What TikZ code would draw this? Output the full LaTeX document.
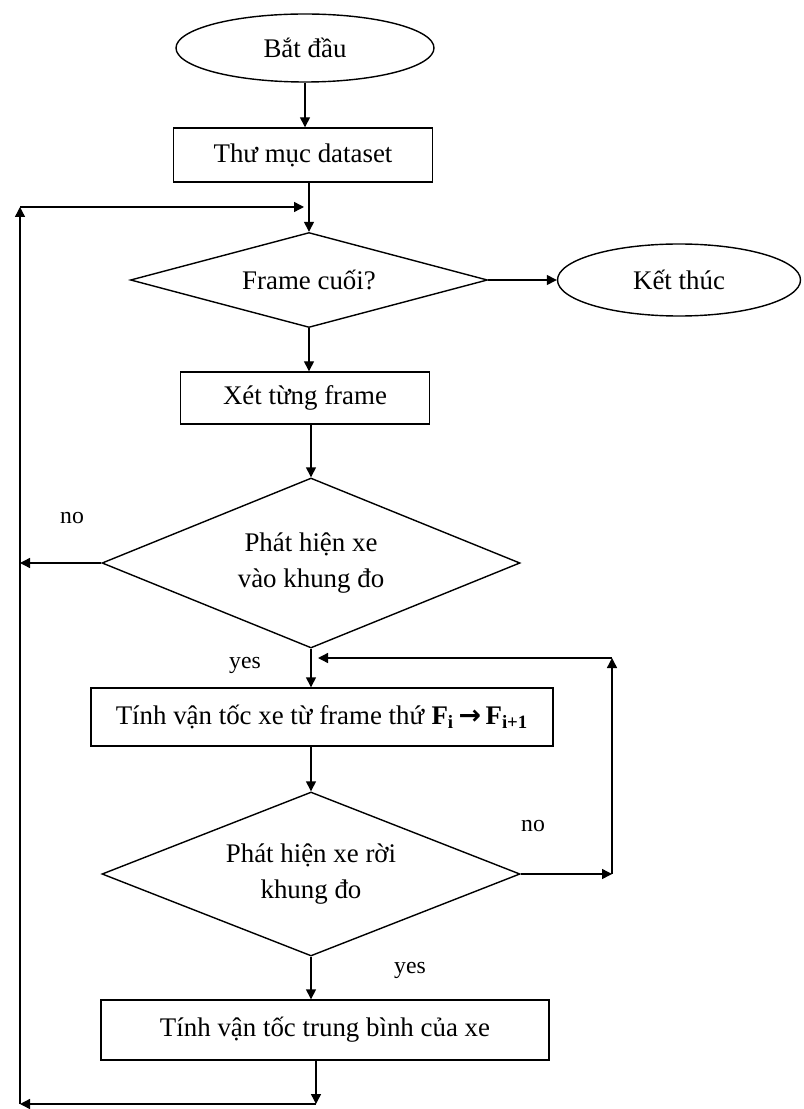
\documentclass[tikz,border=0pt]{standalone}
\usepackage{fontspec}
\setmainfont{Liberation Serif}
\newfontfamily\arrowfont{DejaVu Sans}
\usetikzlibrary{
  arrows.meta,
  shapes.geometric
}

\begin{document}
\begin{tikzpicture}[
  x=0.2mm, y=-0.2mm,
  every node/.style={font=\fontsize{15.3}{20}\selectfont},
  termnode/.style={
    draw, ellipse, line width=0.8pt, inner sep=0pt
  },
  procbox/.style={
    draw, rectangle, line width=0.8pt, inner sep=0pt
  },
  decision/.style={
    draw, diamond, line width=0.8pt, inner sep=0pt, align=center
  },
  arrow/.style={
    -{Triangle[length=2mm, width=2mm]},
    line width=0.8pt
  },
  lbl/.style={font=\fontsize{13.5}{15}\selectfont}
]
\useasboundingbox (0,0) rectangle (803,1109);

\node[termnode, minimum width=5.16cm, minimum height=1.36cm] (start) at (305,48) {Bắt đầu};
\node[procbox, minimum width=5.18cm, minimum height=1.08cm] (dataset) at (303,155) {Thư mục dataset};
\node[decision, aspect=3.76, minimum width=7.14cm, minimum height=1.9cm] (last) at (309,280) {Frame cuối?};
\node[termnode, minimum width=4.86cm, minimum height=1.44cm] (stop) at (679,280) {Kết thúc};
\node[procbox, minimum width=4.98cm, minimum height=1.04cm] (each) at (305,398) {Xét từng frame};
\node[decision, aspect=2.46, minimum width=8.36cm, minimum height=3.4cm] (enter) at (311,563) {Phát hiện xe\\vào khung đo};
\node[procbox, minimum width=9.24cm, minimum height=1.16cm] (speed) at (322,717)
  {Tính vận tốc xe từ frame thứ \textbf{F\textsubscript{i}\,{\arrowfont →}\,F\textsubscript{i+1}}};
\node[decision, aspect=2.55, minimum width=8.36cm, minimum height=3.28cm] (leave) at (311,874) {Phát hiện xe rời\\khung đo};
\node[procbox, minimum width=8.96cm, minimum height=1.2cm] (avg) at (325,1030) {Tính vận tốc trung bình của xe};

% branch labels
\node[lbl] (no1) at (72,518) {no};
\node[lbl] (yes1) at (245,665) {yes};
\node[lbl] (no2) at (533,826) {no};
\node[lbl] (yes2) at (410,970) {yes};

% loop corners
\coordinate (lb) at (20,1104);
\coordinate (lt) at (20,207);
\coordinate (join1) at (304,207);
\coordinate (bt) at (316,1104);
\coordinate (rb) at (612,874);
\coordinate (rt) at (612,658);
\coordinate (join2) at (318,658);

% main flow
\draw[arrow] (start) -- (start |- dataset.north);
\draw[arrow] (dataset.south -| last.north) -- (last.north);
\draw[arrow] (last) -- (stop);
\draw[arrow] (last.south) -- (last.south |- each.north);
\draw[arrow] (enter.north |- each.south) -- (enter.north);
\draw[arrow] (enter.south) -- (enter.south |- speed.north);
\draw[arrow] (leave.north |- speed.south) -- (leave.north);
\draw[arrow] (leave.south) -- (leave.south |- avg.north);

% outer loop
\draw[arrow] (enter.west) -- (enter.west -| lb);
\draw[arrow] (avg.south -| bt) -- (bt);
\draw[arrow] (bt) -- (lb);
\draw[arrow] (lb) -- (lt);
\draw[arrow] (lt) -- (join1);

% inner loop
\draw[arrow] (leave.east) -- (rb);
\draw[arrow] (rb) -- (rt);
\draw[arrow] (rt) -- (join2);

\end{tikzpicture}
\end{document}
